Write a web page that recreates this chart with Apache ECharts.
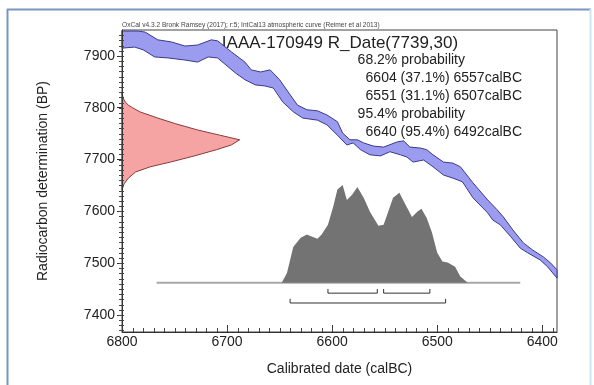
<!DOCTYPE html>
<html><head><meta charset="utf-8">
<script src="https://cdn.jsdelivr.net/npm/echarts@6/dist/echarts.min.js"></script>
<style>html,body{margin:0;padding:0;background:#fff}#c{width:594px;height:385px}</style>
</head><body><div id="c"></div>
<script>
// ---- data ----
const curveUpperYear = [6800,6785,6778,6766,6753,6740,6728,6715,6709,6696,6683,6677,6668,6659,6650,6640,6633,6624,6614,6605,6595,6590,6583,6576,6570,6561,6551,6538,6532,6526,6516,6510,6504,6494,6485,6478,6466,6452,6443,6437,6428,6418,6409,6399,6392,6386];
const curveUpperBP   = [7948,7948,7946,7931,7927,7919,7921,7931,7929,7908,7888,7873,7869,7873,7854,7825,7805,7796,7794,7786,7773,7751,7738,7738,7732,7726,7724,7734,7736,7724,7722,7719,7709,7695,7693,7686,7655,7622,7603,7589,7564,7539,7525,7512,7500,7487];
const curveLowerYear = [6800,6788,6780,6769,6756,6740,6728,6718,6709,6692,6683,6673,6664,6656,6647,6637,6628,6614,6605,6595,6586,6580,6573,6564,6554,6545,6535,6529,6523,6513,6504,6494,6485,6476,6466,6452,6447,6440,6430,6421,6414,6402,6395,6386];
const curveLowerBP   = [7915,7917,7912,7898,7896,7892,7888,7898,7896,7867,7854,7844,7842,7838,7811,7792,7780,7776,7767,7747,7728,7732,7719,7709,7707,7715,7709,7705,7695,7699,7686,7670,7664,7657,7626,7597,7583,7574,7551,7529,7520,7506,7493,7471];

const rdateBP   = [7829,7819,7811,7805,7800,7792,7780,7769,7757,7747,7738,7728,7719,7707,7695,7686,7676,7664,7653,7641];
const rdateSpan = [0,1,3,6,10,17,34,51,72,93,112,104,90,69,46,27,13,6,2,0];

const histYear = [6767,6648,6643,6637,6630,6624,6619,6614,6610,6604,6599,6595,6590,6586,6581,6576,6570,6564,6556,6551,6547,6542,6536,6531,6524,6519,6515,6510,6505,6500,6495,6490,6483,6478,6471,6421];
const histProb = [0,0,19,69,87,93,89,85,93,112,147,180,189,160,170,185,164,137,110,112,135,164,174,154,127,137,143,125,97,58,41,39,31,12,0,0];

const ranges68 = [[6604,6557],[6551,6507]];
const ranges95 = [[6640,6492]];

const xTicks = [6800,6700,6600,6500,6400];
const yTicks = [7400,7500,7600,7700,7800,7900];
const MINOR_STEP = 10;

const headerText = 'OxCal v4.3.2 Bronk Ramsey (2017); r:5; IntCal13 atmospheric curve (Reimer et al 2013)';
const titleText = 'IAAA-170949 R_Date(7739,30)';
const probLines = ['68.2% probability','6604 (37.1%) 6557calBC','6551 (31.1%) 6507calBC','95.4% probability','6640 (95.4%) 6492calBC'];
const xAxisName = 'Calibrated date (calBC)';
const yAxisName = 'Radiocarbon determination (BP)';

// ---- setup ----
const X_MIN = 6386, X_MAX = 6800, Y_MIN = 7367, Y_MAX = 7950;
const HIST_BASE = 7462, LVL68 = 7442, LVL95 = 7423, BR_TICK = 8;
const FONT = '"Liberation Sans", Arial, sans-serif';

const bandPts = curveUpperYear.map((x,i)=>[x, curveUpperBP[i]])
  .concat(curveLowerYear.map((x,i)=>[x, curveLowerBP[i]]).reverse());
const redPts = rdateBP.map((b,i)=>[X_MAX - rdateSpan[i], b]);
const histPts = histYear.map((x,i)=>[x, HIST_BASE + histProb[i]]);

function polySeries(points, style, z){
  return {
    type:'custom', silent:true, animation:false, z:z,
    data:[points[0]],
    renderItem:(params, api)=>({
      type:'polygon',
      shape:{points: points.map(p=>api.coord(p))},
      style: style
    })
  };
}
function bracket(r, lvl){
  return {type:'line', silent:true, animation:false, symbol:'none', z:5,
    data:[[r[0], lvl+BR_TICK],[r[0], lvl],[r[1], lvl],[r[1], lvl+BR_TICK]],
    lineStyle:{color:'#333', width:1}};
}
// minor ticks drawn through the axes' scales
const minorSeries = {
  type:'custom', silent:true, animation:false, z:11, clip:false,
  data:[[X_MAX, Y_MIN]],
  renderItem:(params, api)=>{
    const children = [];
    for (let v = Math.ceil(X_MIN/MINOR_STEP)*MINOR_STEP; v < X_MAX; v += MINOR_STEP){
      const p = api.coord([v, Y_MIN]);
      const x = Math.round(p[0]) + 0.5;
      children.push({type:'line', shape:{x1:x, y1:p[1], x2:x, y2:p[1]-4}, style:{stroke:'#444', lineWidth:1}});
    }
    for (let v = Math.ceil(Y_MIN/MINOR_STEP)*MINOR_STEP; v < Y_MAX; v += MINOR_STEP){
      const p = api.coord([X_MAX, v]);
      const y = Math.round(p[1]) + 0.5;
      children.push({type:'line', shape:{x1:p[0]-3, y1:y, x2:p[0]+2, y2:y}, style:{stroke:'#444', lineWidth:1}});
    }
    return {type:'group', children};
  }
};

const series = [
  polySeries(bandPts, {fill:'#9b9bf0', stroke:'#3a3a88', lineWidth:1}, 2),
  polySeries(redPts, {fill:'#f6a3a3', stroke:'#8a3a3a', lineWidth:1}, 2),
  {type:'line', silent:true, animation:false, symbol:'none', z:3,
   data:[[histYear[0], HIST_BASE],[histYear[histYear.length-1], HIST_BASE]],
   lineStyle:{color:'#a8a8a8', width:2}},
  polySeries(histPts, {fill:'#737373'}, 4),
  minorSeries
];
ranges68.forEach(r=>series.push(bracket(r, LVL68)));
ranges95.forEach(r=>series.push(bracket(r, LVL95)));

const textGraphics = [
  {type:'text', x:122, y:25, style:{text:headerText, font:'6.6px '+FONT, fill:'#444', align:'left', verticalAlign:'middle'}},
  {type:'text', x:340, y:43, style:{text:titleText, font:'17px '+FONT, fill:'#222', align:'center', verticalAlign:'middle'}}
];
const lineRight = [465, 522, 522, 465, 522];
probLines.forEach((t,i)=>{
  textGraphics.push({type:'text', x:lineRight[i], y:60 + i*18, style:{text:t, font:'14px '+FONT, fill:'#222', align:'right', verticalAlign:'middle'}});
});
const frame = [
  {type:'line', shape:{x1:7, y1:9.5, x2:591, y2:9.5}, style:{stroke:'#7896bf', lineWidth:2}},
  {type:'line', shape:{x1:7.5, y1:9, x2:7.5, y2:385}, style:{stroke:'#7896bf', lineWidth:2}},
  {type:'line', shape:{x1:590.5, y1:9, x2:590.5, y2:385}, style:{stroke:'#cfe6ee', lineWidth:2}}
];
const plain = v => String(v);

const chart = echarts.init(document.getElementById('c'), null, {renderer:'canvas'});
chart.setOption({
  animation:false,
  backgroundColor:'#fff',
  grid:{left:122, right:37, top:30, bottom:53, show:true, borderColor:'#444', borderWidth:1},
  xAxis:{type:'value', min:X_MIN, max:X_MAX, inverse:true, splitNumber:5, z:10,
     axisLine:{show:true, lineStyle:{color:'#333', width:1}},
     axisTick:{show:true, inside:true, length:7, customValues:xTicks, lineStyle:{color:'#333', width:1}},
     axisLabel:{margin:3, fontSize:14, color:'#222', fontFamily:FONT, customValues:xTicks, formatter:plain},
     splitLine:{show:false},
     name:xAxisName, nameLocation:'middle', nameGap:30, nameTextStyle:{fontSize:14, color:'#222', fontFamily:FONT}},
  yAxis:{type:'value', min:Y_MIN, max:Y_MAX, splitNumber:5, z:10,
     axisLine:{show:true, lineStyle:{color:'#333', width:1}},
     axisTick:{show:true, inside:false, length:5, customValues:yTicks, lineStyle:{color:'#333', width:1}},
     axisLabel:{margin:7, fontSize:14, color:'#222', fontFamily:FONT, customValues:yTicks, formatter:plain},
     splitLine:{show:false},
     name:yAxisName, nameLocation:'middle', nameGap:72, nameRotate:90, nameTextStyle:{fontSize:14, color:'#222', fontFamily:FONT}},
  graphic: frame.concat(textGraphics),
  series: series
});
</script>
</body></html>
